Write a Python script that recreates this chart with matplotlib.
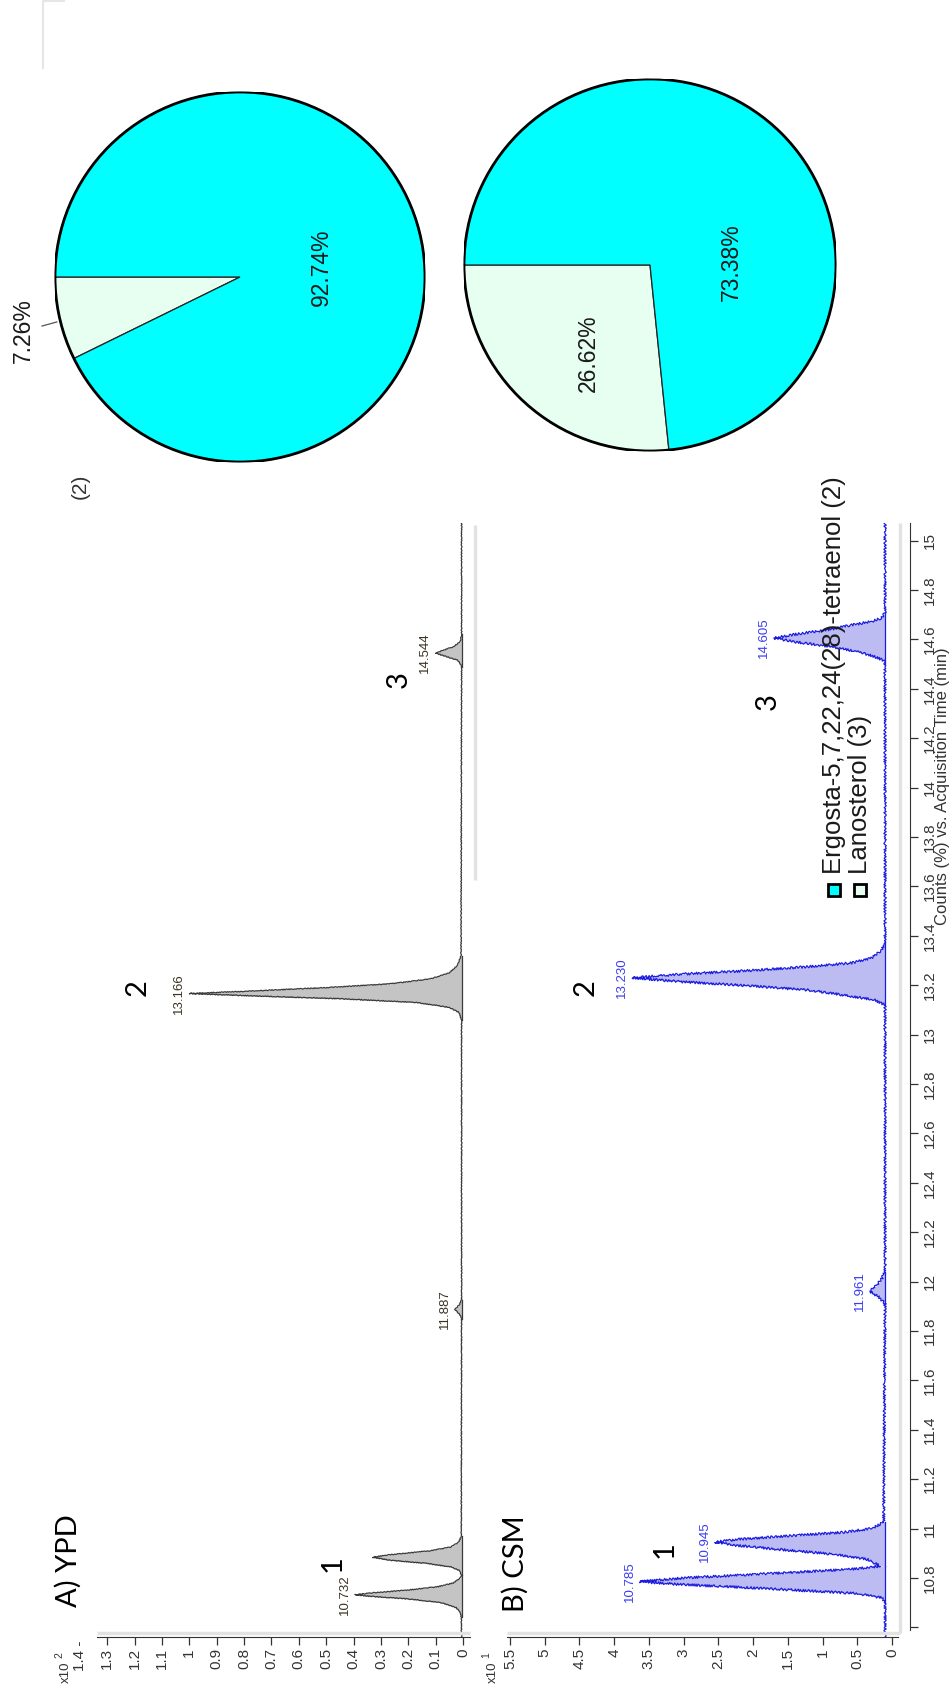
import matplotlib
matplotlib.use("Agg")
import numpy as np
import matplotlib.pyplot as plt
from matplotlib import font_manager
from matplotlib.lines import Line2D
from matplotlib.patches import Rectangle, Circle

W, H = 952, 1693

# retention time window shown by both chromatograms (min)
T_LO, T_HI = 10.561, 15.071

# A) YPD extract, counts in units of 1e2 %
ypd_time = [10.561, 10.64, 10.66, 10.68, 10.70, 10.715, 10.725, 10.732, 10.74, 10.75, 10.765, 10.78, 10.80, 10.81,
            10.83, 10.845, 10.86, 10.872, 10.884, 10.895, 10.91, 10.925, 10.945, 10.97,
            11.85, 11.87, 11.887, 11.905, 11.925,
            13.06, 13.09, 13.11, 13.13, 13.145, 13.157, 13.166, 13.175, 13.19, 13.205, 13.225, 13.25, 13.28, 13.32,
            14.49, 14.515, 14.53, 14.544, 14.555, 14.57, 14.59, 14.62,
            15.071]
ypd_counts = [0.005, 0.006, 0.010, 0.025, 0.08, 0.20, 0.33, 0.395, 0.33, 0.21, 0.09, 0.035, 0.010, 0.006,
              0.012, 0.045, 0.14, 0.27, 0.33, 0.26, 0.12, 0.045, 0.015, 0.006,
              0.005, 0.014, 0.030, 0.014, 0.005,
              0.005, 0.015, 0.05, 0.17, 0.45, 0.78, 1.00, 0.80, 0.50, 0.27, 0.12, 0.05, 0.02, 0.007,
              0.005, 0.018, 0.06, 0.10, 0.075, 0.035, 0.010, 0.005,
              0.005]
ypd_rt_labels = [10.732, 11.887, 13.166, 14.544]
ypd_windows = [(10.64, 10.81), (10.81, 10.97), (11.85, 11.925), (13.06, 13.32), (14.49, 14.62)]

# B) CSM extract, counts in units of 1e1 %
csm_time = [10.561, 10.70, 10.72, 10.737, 10.757, 10.773, 10.785, 10.80, 10.817, 10.835, 10.848,
            10.875, 10.895, 10.915, 10.932, 10.945, 10.957, 10.97, 10.985, 11.0, 11.025,
            11.91, 11.935, 11.961, 11.985, 12.01, 12.04,
            13.12, 13.14, 13.155, 13.18, 13.20, 13.215, 13.230, 13.245, 13.26, 13.275, 13.29, 13.31, 13.34, 13.38,
            14.50, 14.515, 14.535, 14.555, 14.575, 14.59, 14.605, 14.62, 14.64, 14.658, 14.672, 14.686, 14.71,
            15.071]
csm_counts = [0.10, 0.10, 0.15, 0.5, 1.8, 3.0, 3.63, 3.0, 1.8, 0.6, 0.17,
              0.35, 0.8, 1.6, 2.25, 2.55, 2.2, 1.5, 0.7, 0.3, 0.12,
              0.10, 0.18, 0.32, 0.22, 0.15, 0.10,
              0.10, 0.25, 0.58, 1.2, 2.2, 3.1, 3.74, 3.0, 2.0, 1.2, 0.58, 0.3, 0.15, 0.10,
              0.10, 0.12, 0.3, 0.58, 1.0, 1.4, 1.7, 1.4, 0.9, 0.58, 0.3, 0.15, 0.10,
              0.10]
csm_rt_labels = [10.785, 10.945, 11.961, 13.230, 14.605]
csm_windows = [(10.70, 10.848), (10.848, 11.025), (11.91, 12.04), (13.12, 13.38), (14.50, 14.71)]

ypd_ticks = [0, 0.1, 0.2, 0.3, 0.4, 0.5, 0.6, 0.7, 0.8, 0.9, 1, 1.1, 1.2, 1.3]
csm_ticks = [0, 0.5, 1, 1.5, 2, 2.5, 3, 3.5, 4, 4.5, 5, 5.5]
time_ticks = [10.6, 10.8, 11, 11.2, 11.4, 11.6, 11.8, 12, 12.2, 12.4, 12.6, 12.8,
              13, 13.2, 13.4, 13.6, 13.8, 14, 14.2, 14.4, 14.6, 14.8, 15]

# sterol composition (%)
sterols = ["Lanosterol (3)", "Ergosta-5,7,22,24(28)-tetraenol (2)"]
ypd_share = [7.26, 92.74]
csm_share = [26.62, 73.38]
sterol_colors = ["#e6fff0", "#00ffff"]

names = {f.name for f in font_manager.fontManager.ttflist}
NARROW = "Liberation Sans Narrow" if "Liberation Sans Narrow" in names else "Liberation Sans"
SANS = "Liberation Sans"
TITLE = "Lato"

fig = plt.figure(figsize=(W / 100, H / 100), dpi=100)


def fig_axes(x0, y0, x1, y1):
    return fig.add_axes([x0 / W, 1 - y1 / H, (x1 - x0) / W, (y1 - y0) / H])


def fig_line(xs, ys, **kw):
    fig.add_artist(Line2D([x / W for x in xs], [1 - y / H for y in ys],
                          transform=fig.transFigure, **kw))


def fig_text(x, y, s, **kw):
    fig.text(x / W, 1 - y / H, s, rotation=90, **kw)


def chromatogram(ax, t, c, windows, base, line, fill, labels, label_color, jitter=None):
    t = np.array(t)
    c = np.array(c)
    for s, e in windows:
        m = (t >= s - 1e-9) & (t <= e + 1e-9)
        ax.fill_betweenx(t[m], base, c[m], color=fill, lw=0, zorder=1)
        ax.plot([base, base], [s, e], color=line, lw=0.9, zorder=2)
    trace, = ax.plot(c, t, color=line, lw=0.9, zorder=3)
    if jitter:
        # detector noise look on the trace
        trace.set_sketch_params(*jitter)
    for rt in labels:
        ax.annotate(f"{rt:.3f}", xy=(np.interp(rt, t, c), rt), xytext=(-3, 0),
                    textcoords="offset points", rotation=90, ha="right", va="center",
                    fontsize=9.5, family=SANS, color=label_color)
    ax.set_ylim(T_LO, T_HI)
    ax.patch.set_visible(False)
    for side in ("top", "left", "right"):
        ax.spines[side].set_visible(False)
    ax.spines["bottom"].set_color("#333333")
    ax.tick_params(axis="x", direction="out", length=6, width=0.9, pad=2,
                   labelrotation=90, labelsize=11, colors="#333333")


# A) YPD chromatogram
ax_a = fig_axes(75, 523, 478, 1637)
ax_a.set_xlim(1.418, -0.055)
chromatogram(ax_a, ypd_time, ypd_counts, ypd_windows, 0.005, "#3a3a3a", "#c4c4c4",
             ypd_rt_labels, "#3b3323", jitter=(0.4, 3, 2))
ax_a.set_xticks(ypd_ticks, [f"{v:g}" for v in ypd_ticks])
for lab in ax_a.get_xticklabels():
    lab.set_family(NARROW)
ax_a.spines["bottom"].set_bounds(-0.026, 1.338)
ax_a.set_yticks([])

# B) CSM chromatogram
ax_b = fig_axes(500, 523, 910, 1637)
ax_b.set_xlim(5.644, -0.259)
chromatogram(ax_b, csm_time, csm_counts, csm_windows, 0.1, "#1c1ce0", "#bcbcf2",
             csm_rt_labels, "#3c3cf0", jitter=(1.2, 3, 2))
ax_b.set_xticks(csm_ticks, [f"{v:g}" for v in csm_ticks])
for lab in ax_b.get_xticklabels():
    lab.set_family(NARROW)
ax_b.spines["bottom"].set_bounds(-0.086, 5.544)
ax_b.spines["right"].set_visible(True)
ax_b.spines["right"].set_color("#333333")
ax_b.spines["right"].set_bounds(10.589, T_HI)
ax_b.yaxis.tick_right()
ax_b.set_yticks(time_ticks, ["" if v < 10.7 else f"{v:g}" for v in time_ticks])
ax_b.tick_params(axis="y", direction="out", length=6, width=0.9, pad=3,
                 labelrotation=90, labelsize=11, colors="#333333")
for lab in ax_b.get_yticklabels():
    lab.set_family(NARROW)
    lab.set_va("center")

# compound numbers and panel titles
for ax, x, t, s in [(ax_a, 0.475, 10.857, "1"), (ax_a, 1.188, 13.189, "2"), (ax_a, 0.234, 14.436, "3"),
                    (ax_b, 3.27, 10.913, "1"), (ax_b, 4.41, 13.189, "2"), (ax_b, 1.785, 14.347, "3")]:
    ax.text(x, t, s, rotation=90, ha="center", va="center", fontsize=21, family=TITLE)
fig_text(68, 1561, "A) YPD", ha="center", va="center", fontsize=21, family=TITLE)
fig_text(515, 1564, "B) CSM", ha="center", va="center", fontsize=21, family=TITLE)

# axis scale markers and title
fig_text(80, 1641, "1.4 -", ha="center", va="top", fontsize=11, family=NARROW, color="#333333")
fig_text(66, 1672, "x10", ha="center", va="center", fontsize=9.5, family=SANS, color="#333333")
fig_text(59, 1655, "2", ha="center", va="center", fontsize=7.5, family=SANS, color="#333333")
fig_text(493, 1672, "x10", ha="center", va="center", fontsize=9.5, family=SANS, color="#333333")
fig_text(486, 1655, "1", ha="center", va="center", fontsize=7.5, family=SANS, color="#333333")
fig_text(943, 786, "Counts (%) vs. Acquisition Time (min)", ha="center", va="center",
         fontsize=12, family=NARROW, color="#333333")

# light plot frames
grey = dict(color="#e2e2e2", lw=2.5, solid_capstyle="butt")
fig_line([97, 470], [1633, 1633], **grey)
fig_line([475, 475], [525, 880], **grey)
fig_line([507, 900], [1633, 1633], **grey)
fig_line([900, 900], [523, 1633], **grey)
fig_line([43, 43, 64], [68, 1, 1], color="#e6e6e6", lw=1.5)


def sterol_pie(cx, cy, r, share, texts):
    ax = fig_axes(cx - r, cy - r, cx + r, cy + r)
    ax.pie(share, colors=sterol_colors, startangle=180, counterclock=True, radius=1,
           wedgeprops=dict(edgecolor="#222222", linewidth=0.9))
    ax.add_patch(Circle((0, 0), 1, fill=False, ec="black", lw=2))
    ax.set_xlim(-1, 1)
    ax.set_ylim(-1, 1)
    for v, (x, y) in zip(share, texts):
        ax.text(x, y, f"{v:.2f}%", rotation=90, ha="center", va="center",
                fontsize=16.5, family=SANS, color="#1a1a1a")
    return ax


pie_a = sterol_pie(240, 277, 185, ypd_share, [(-1.17, -0.29), (0.44, 0.054)])
pie_a.plot([-0.99, -1.07], [-0.243, -0.265], color="#555555", lw=0.9, clip_on=False)
sterol_pie(650, 265, 186, csm_share, [(-0.33, -0.473), (0.44, 0.016)])

# legend, drawn sideways
for x, name, col in [(860, sterols[0], sterol_colors[0]), (834, sterols[1], sterol_colors[1])]:
    fig.add_artist(Rectangle(((x - 6) / W, 1 - 896 / H), 12 / W, 12 / H, transform=fig.transFigure,
                             fc=col, ec="black", lw=2))
    fig_text(x, 874, name, ha="center", va="bottom", fontsize=18.5, family=SANS, color="#1a1a1a")
fig_text(80, 486, "(2)", ha="center", va="center", fontsize=15, family=SANS, color="#333333")

fig.savefig("out.png", dpi=100)
